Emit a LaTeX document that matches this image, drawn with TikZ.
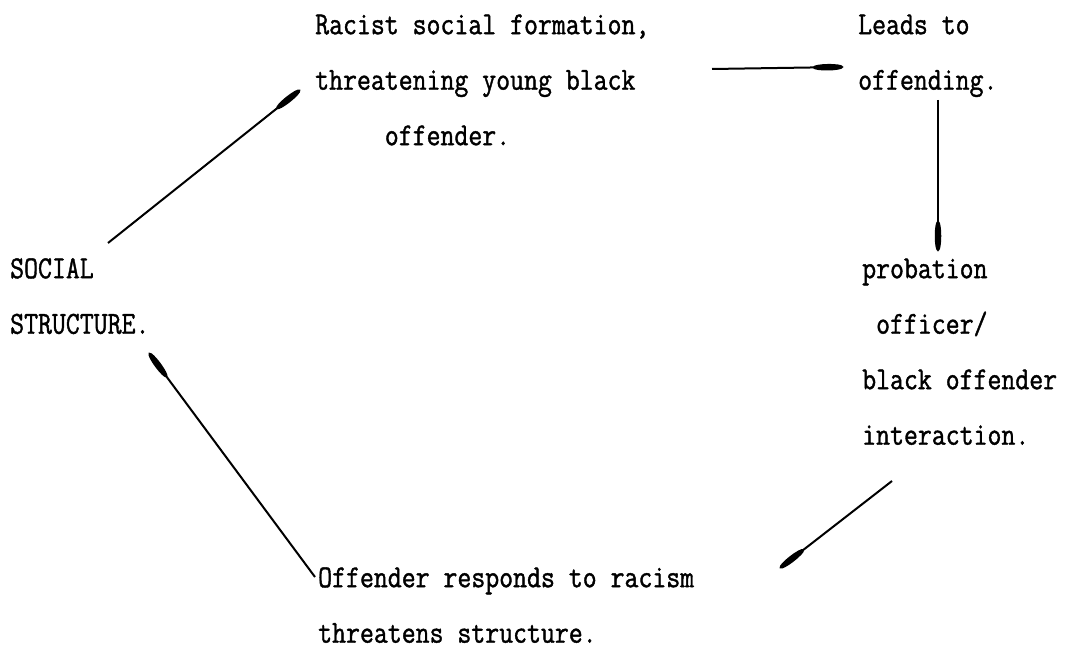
\documentclass[tikz,border=0pt]{standalone}
\usepackage{fontspec}
\newfontfamily\typew{Latin Modern Mono}[FakeBold=1.2, FakeStretch=0.845]
\usetikzlibrary{arrows.meta}
\newcommand\tstrut{\rule{0pt}{22pt}}
\tikzset{
  txt/.style={anchor=north west, inner sep=0pt, align=left,
    font=\typew\fontsize{32}{55.5}\selectfont},
  conn/.style={line width=2pt, -{Ellipse[length=30pt,width=6.5pt]}}
}
\begin{document}
\begin{tikzpicture}[x=1pt,y=-1pt]
\useasboundingbox (0,0) rectangle (1092,666);
\node[txt] (racist) at (315,12) {\tstrut Racist social formation,\\threatening young black\\\phantom{xxxxx}offender.};
\node[txt] (leads) at (858,12) {\tstrut Leads to\\offending.};
\node[txt] (probation) at (862,256) {\tstrut probation\\\phantom{x}officer/\\black offender\\interaction.};
\node[txt] (social) at (10,256) {\tstrut SOCIAL\\STRUCTURE.};
\node[txt] (responds) at (318,565) {\tstrut Offender responds to racism\\threatens structure.};
\coordinate (a1) at (712,69);
\coordinate (a2) at (843,67);
\coordinate (b1) at (938,100);
\coordinate (b2) at (938,251);
\coordinate (c1) at (892,481);
\coordinate (c2) at (780,568);
\coordinate (d1) at (315,577);
\coordinate (d2) at (149,353);
\coordinate (e1) at (108,243);
\coordinate (e2) at (300,90);
\draw[conn] (a1) -- (a2);
\draw[conn] (b1) -- (b2);
\draw[conn] (c1) -- (c2);
\draw[conn] (d1) -- (d2);
\draw[conn] (e1) -- (e2);
\end{tikzpicture}
\end{document}
